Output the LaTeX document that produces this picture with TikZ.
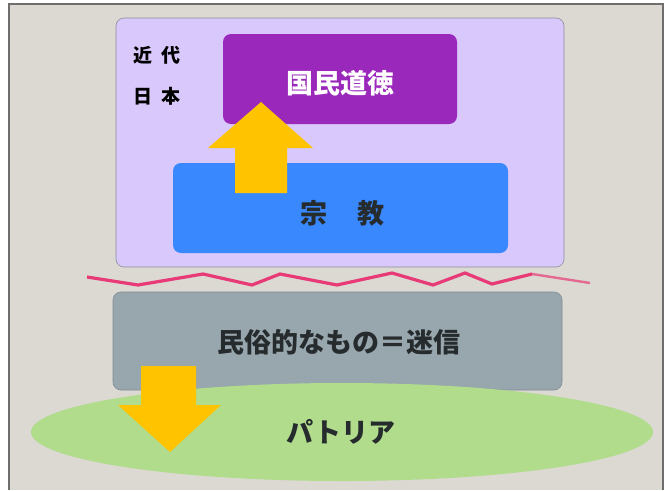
\documentclass[tikz,border=0pt]{standalone}
\usepackage{fontspec}
\newfontfamily\jp{Noto Sans CJK JP}
\usetikzlibrary{shapes.geometric}
\definecolor{paper}{HTML}{DCD9D3}
\definecolor{frameline}{HTML}{6E6E6E}
\definecolor{lav}{HTML}{D9C8FB}
\definecolor{lavline}{HTML}{8C8F9A}
\definecolor{purp}{HTML}{9A28BB}
\definecolor{bluebox}{HTML}{3A88FE}
\definecolor{graybox}{HTML}{98A6AD}
\definecolor{grayline}{HTML}{7F8C94}
\definecolor{grn}{HTML}{B0DC8C}
\definecolor{yel}{HTML}{FFC300}
\definecolor{zig}{HTML}{E83A77}
\definecolor{ink}{HTML}{262B2E}
\tikzset{
  panel/.style={rectangle, rounded corners=8pt, inner sep=0pt},
  bigtext/.style={font=\jp\bfseries\fontsize{27}{27}\selectfont, text=ink, inner sep=0pt},
  smalltext/.style={font=\jp\bfseries\fontsize{19}{19}\selectfont, text=black, inner sep=0pt},
  blockarrow/.style={fill=yel, draw=none}
}
\begin{document}
\begin{tikzpicture}[x=1pt,y=-1pt]
\useasboundingbox (0,0) rectangle (669,490);
\fill[white] (0,0) rectangle (669,490);
\fill[paper] (9,4) rectangle (663,490);
\draw[frameline, line width=1.2pt] (9,490) -- (9,4) -- (663,4) -- (663,490);

% boxes
\node[panel, fill=lav, draw=lavline, line width=0.6pt, minimum width=448pt, minimum height=249pt] (modern) at (340,142.5) {};
\node[panel, fill=bluebox, minimum width=335pt, minimum height=90pt] (religion) at (340.5,208) {};
\node[panel, fill=purp, minimum width=234pt, minimum height=90pt] (moral) at (340,79) {};

% up arrow
\coordinate (uptip) at (261,102);
\fill[blockarrow] (235,193) -- (235,148) -- (208,148) -- (uptip) -- (313,148) -- (287,148) -- (287,193) -- cycle;

% zigzag
\draw[zig, line width=3.2pt, line join=miter] (87,277) -- (138,285) -- (203,274) -- (252,285) -- (280,274) -- (337,285) -- (392,273) -- (433,285) -- (465,273) -- (492,284) -- (532,274);
\draw[zig, line width=2.4pt, opacity=0.7] (532,274) -- (590,283);

% lower part
\node[panel, fill=graybox, draw=grayline, line width=0.6pt, minimum width=449pt, minimum height=98pt] (folk) at (337.5,341) {};
\node[ellipse, fill=grn, inner sep=0pt, minimum width=622pt, minimum height=98pt] (patria) at (342,432) {};

% down arrow
\coordinate (downtip) at (170,452);
\fill[blockarrow] (141,366) -- (196,366) -- (196,405) -- (221,405) -- (downtip) -- (118,405) -- (141,405) -- cycle;

% texts
\node[smalltext] (t1) at (157,55) {近\hspace{10pt}代};
\node[smalltext] (t2) at (157,96) {日\hspace{10pt}本};
\node[bigtext, text=white] (tmoral) at (340,83) {国民道徳};
\node[bigtext] (trel) at (342,213) {宗\hspace{30pt}教};
\node[bigtext] (tfolk) at (339,342) {民俗的なもの＝迷信};
\node[bigtext] (tpat) at (341,432) {パトリア};
\end{tikzpicture}
\end{document}
